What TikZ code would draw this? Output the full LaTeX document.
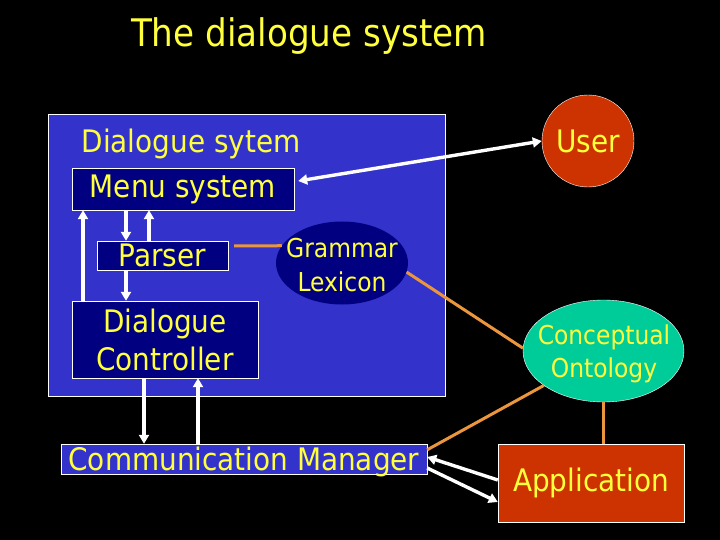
\documentclass[tikz,border=0pt]{standalone}
\usepackage{fontspec}
\setmainfont{DejaVu Sans Condensed}
\usetikzlibrary{arrows.meta,shapes.geometric}
\definecolor{slideblue}{RGB}{51,51,204}
\definecolor{navybox}{RGB}{0,0,128}
\definecolor{rustred}{RGB}{204,51,0}
\definecolor{ontteal}{RGB}{0,204,153}
\definecolor{linkorange}{RGB}{235,150,60}
\definecolor{txtyellow}{RGB}{255,255,60}

\begin{document}
\begin{tikzpicture}[x=1pt,y=-1pt]
\tikzset{
  box/.style={draw=white,thin,fill=navybox,text=txtyellow,inner sep=0pt,font=\fontsize{31}{38}\selectfont},
  txt/.style={text=txtyellow,inner sep=0pt,align=center},
  flow/.style={-{Triangle[length=9pt,width=10pt]},white,line width=3.4pt},
  link/.style={linkorange,line width=3pt}
}
\fill[black] (0,0) rectangle (720,540);
\useasboundingbox (0,0) rectangle (720,540);

\node[txt,font=\fontsize{38}{44}\selectfont] (title) at (309,36) {The dialogue system};

% dialogue system block
\node[draw=white,thin,fill=slideblue,minimum width=397,minimum height=282,inner sep=0pt] (dsys) at (246.5,255) {};
\node[txt,font=\fontsize{31}{38}\selectfont] (dsyslabel) at (191,144) {Dialogue sytem};
\node[box,minimum width=222,minimum height=42] (menu) at (183,189) {Menu system};
\node[box,minimum width=131,minimum height=29,text height=22pt,text depth=0pt] (parser) at (162.5,255.5) {Parser};
\node[box,minimum width=186,minimum height=77,align=center] (ctrl) at (165,339.5) {Dialogue\\Controller};
\node[ellipse,fill=navybox,minimum width=132,minimum height=83,inner sep=0pt] (gram) at (342,263) {};
\node[txt,font=\fontsize{26}{34}\selectfont] (gramtxt) at (342,265) {Grammar\\Lexicon};

\node[box,fill=slideblue,minimum width=366,minimum height=30,text height=22pt,text depth=0pt] (comm) at (244,459) {Communication Manager};

% outside
\node[circle,draw=white,thin,fill=rustred,minimum size=92,inner sep=0pt,text=txtyellow,font=\fontsize{31}{38}\selectfont] (user) at (588,141) {User};
\node[ellipse,draw=white,thin,fill=ontteal,minimum width=161,minimum height=102,inner sep=0pt] (ont) at (603.5,351) {};
\node[txt,font=\fontsize{26}{33}\selectfont] (onttxt) at (604,354) {Conceptual\\Ontology};
\node[box,fill=rustred,minimum width=186,minimum height=78] (app) at (591,483) {Application};

% white arrows
\draw[flow,{Triangle[length=9pt,width=10pt]}-{Triangle[length=9pt,width=10pt]}] ([shift={(4,-8)}]menu.east) -- (user.west);
\draw[flow] (126,0 |- menu.south) -- (126,0 |- parser.north);
\draw[flow] (149,0 |- parser.north) -- (149,0 |- menu.south);
\draw[flow] (126,0 |- parser.south) -- (126,0 |- ctrl.north);
\draw[flow] (83,0 |- ctrl.north) -- (83,0 |- menu.south);
\draw[flow] (144,0 |- ctrl.south) -- (144,0 |- comm.north);
\draw[flow] (198,0 |- comm.north) -- (198,0 |- ctrl.south);
\draw[flow] ([yshift=3pt]app.west) -- ([yshift=2pt]comm.east);
\draw[flow] ([yshift=-9pt]comm.east) -- ([yshift=-19pt]app.west);

% orange links
\draw[link] ([shift={(6,-9.5)}]parser.east) -- (gram.164);
\draw[link] (gram.-8) -- (ont.178);
\draw[link] ([yshift=-6pt]comm.north east) -- (ont.210);
\draw[link] (ont.south) -- (ont.south |- app.north);
\end{tikzpicture}
\end{document}
